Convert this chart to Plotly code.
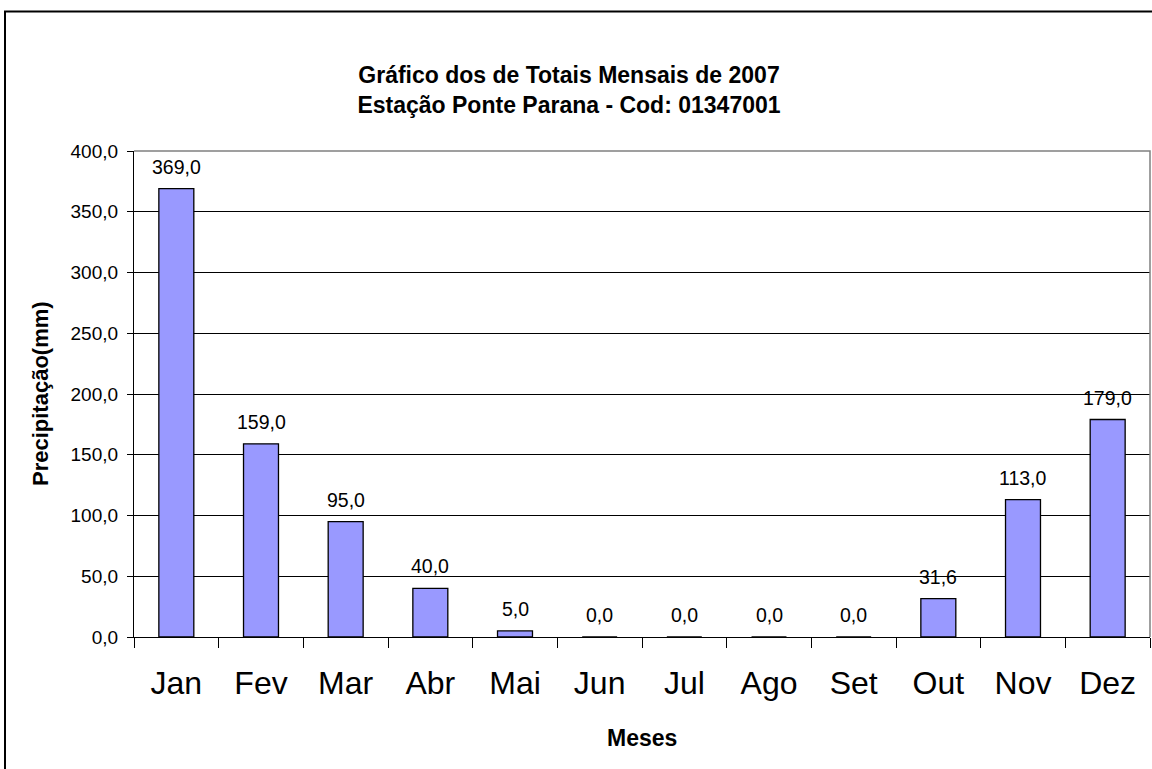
import plotly.graph_objects as go

# Monthly rainfall totals, 2007
meses = ["Jan", "Fev", "Mar", "Abr", "Mai", "Jun", "Jul", "Ago", "Set", "Out", "Nov", "Dez"]
precipitacao = [369.0, 159.0, 95.0, 40.0, 5.0, 0.0, 0.0, 0.0, 0.0, 31.6, 113.0, 179.0]

titulo = "Gráfico dos de Totais Mensais de 2007<br>Estação Ponte Parana - Cod: 01347001"
y_titulo = "Precipitação(mm)"
x_titulo = "Meses"

FONT = "Arial, Liberation Sans, sans-serif"

fig = go.Figure()
fig.add_trace(go.Bar(
    x=meses,
    y=precipitacao,
    marker=dict(color="#9999FF", line=dict(color="black", width=1.3)),
    hoverinfo="x+y",
))

# value labels above each bar
for m, v in zip(meses, precipitacao):
    fig.add_annotation(
        x=m, y=v, text=f"{v:.1f}".replace(".", ","),
        xref="x", yref="y", yanchor="bottom", yshift=9,
        showarrow=False, font=dict(family=FONT, size=19.5, color="black"),
    )

# axis titles
fig.add_annotation(
    text=f"<b>{y_titulo}</b>", xref="paper", yref="paper",
    x=-94 / 1016, y=0.5, textangle=-90, showarrow=False,
    xanchor="center", yanchor="middle",
    font=dict(family=FONT, size=22, color="black"),
)
fig.add_annotation(
    text=f"<b>{x_titulo}</b>", xref="paper", yref="paper",
    x=0.5, y=-101 / 486, showarrow=False,
    xanchor="center", yanchor="middle",
    font=dict(family=FONT, size=23, color="black"),
)

# plot-area border (top and right) in grey
fig.add_shape(type="path", xref="paper", yref="paper",
              path="M 0,1 L 1,1 L 1,0", line=dict(color="#808080", width=1.5),
              layer="above")
# outer chart frame
fig.add_shape(type="rect", xref="paper", yref="paper",
              x0=-129 / 1016, x1=1.2, y0=-0.5, y1=(637 - 11.5) / 486,
              line=dict(color="black", width=2), layer="below")

fig.update_layout(
    width=1152, height=769,
    margin=dict(l=134, r=2, t=151, b=132),
    paper_bgcolor="white", plot_bgcolor="white",
    separators=",.",
    showlegend=False,
    bargap=0.587,
    title=dict(
        text=f"<b>{titulo}</b>", x=569 / 1152, xanchor="center",
        y=1 - 83 / 769, yanchor="middle", xref="container", yref="container",
        font=dict(family=FONT, size=23, color="black"),
    ),
    font=dict(family=FONT, color="black"),
)

fig.update_xaxes(
    type="category",
    showline=True, linecolor="black", linewidth=1.3,
    ticks="outside", ticklen=10, tickcolor="black", tickwidth=1.3,
    tickson="boundaries",
    tickfont=dict(family=FONT, size=32, color="black"),
    ticklabelstandoff=17,
    showgrid=False, zeroline=False,
)
fig.update_yaxes(
    range=[0, 400], dtick=50, tickformat=".1f",
    showline=True, linecolor="black", linewidth=1.3,
    ticks="outside", ticklen=6, tickcolor="black", tickwidth=1.3,
    tickfont=dict(family=FONT, size=19, color="black"),
    ticklabelstandoff=5,
    showgrid=True, gridcolor="black", gridwidth=1,
    zeroline=False,
)

fig.write_html("out.html")
